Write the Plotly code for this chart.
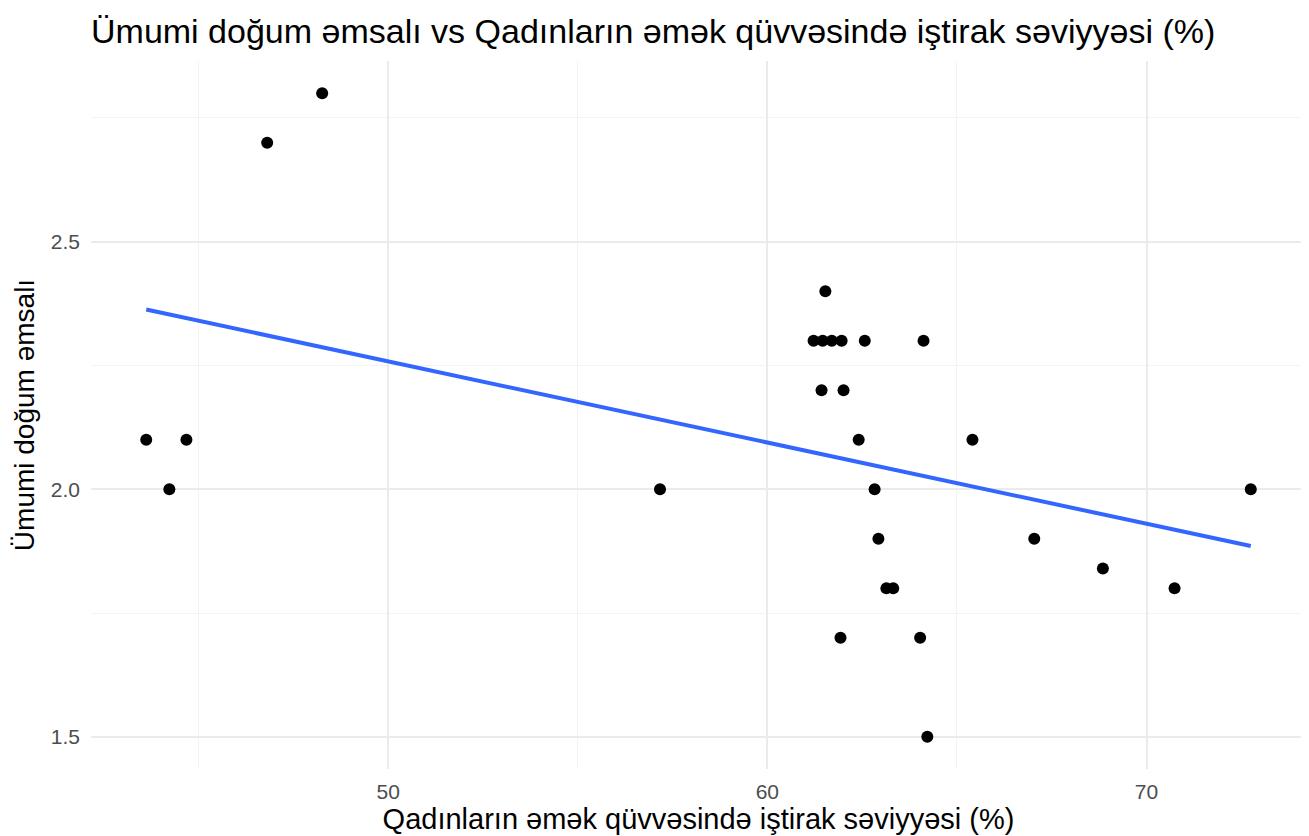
import numpy as np
import plotly.graph_objects as go

# Women's labour force participation (%) and total fertility rate
participation = [43.62, 44.23, 44.68, 46.81, 48.26, 57.17, 61.53,
                 61.22, 61.46, 61.70, 61.96, 62.57, 64.12,
                 61.43, 62.01, 62.41, 65.41, 62.83, 62.93,
                 63.14, 63.32, 61.93, 64.03, 64.22,
                 67.04, 68.85, 70.74, 72.75]
fertility = [2.1, 2.0, 2.1, 2.7, 2.8, 2.0, 2.4,
             2.3, 2.3, 2.3, 2.3, 2.3, 2.3,
             2.2, 2.2, 2.1, 2.1, 2.0, 1.9,
             1.8, 1.8, 1.7, 1.7, 1.5,
             1.9, 1.84, 1.8, 2.0]

x_ticks = [50, 60, 70]
y_ticks = [1.5, 2.0, 2.5]
y_tick_text = ["1.5", "2.0", "2.5"]

title = "Ümumi doğum əmsalı vs Qadınların əmək qüvvəsində iştirak səviyyəsi (%)"
x_title = "Qadınların əmək qüvvəsində iştirak səviyyəsi (%)"
y_title = "Ümumi doğum əmsalı"

xa = np.array(participation)
ya = np.array(fertility)
slope, intercept = np.polyfit(xa, ya, 1)
xl = np.array([xa.min(), xa.max()])
yl = slope * xl + intercept

fig = go.Figure()
fig.add_trace(go.Scatter(x=participation, y=fertility, mode="markers",
                         marker=dict(color="black", size=12), hoverinfo="x+y"))
fig.add_trace(go.Scatter(x=xl, y=yl, mode="lines",
                         line=dict(color="#3366FF", width=4), hoverinfo="skip"))

xr = xa.max() - xa.min()
yr = ya.max() - ya.min()
font = "Liberation Sans, Arial, sans-serif"
W, H = 1301, 828
fig.update_layout(
    width=W, height=H,
    paper_bgcolor="white", plot_bgcolor="white",
    showlegend=False,
    margin=dict(l=83, r=3, t=53, b=67, autoexpand=False),
    title=dict(text=title, x=0, xref="paper", xanchor="left",
               y=1 - 23 / H, yref="container", yanchor="middle",
               font=dict(family=font, size=34, color="black")),
    xaxis=dict(range=[xa.min() - 0.05 * xr, xa.max() + 0.05 * xr],
               tickvals=x_ticks, ticks="", showline=False, zeroline=False,
               automargin=False, ticklabelstandoff=8,
               gridcolor="#ebebeb", gridwidth=2,
               minor=dict(dtick=5, tick0=0, showgrid=True, gridcolor="#f3f3f3", gridwidth=1),
               tickfont=dict(family=font, size=21, color="#4d4d4d"),
               title=dict(text=x_title, standoff=4,
                          font=dict(family=font, size=29, color="black"))),
    yaxis=dict(range=[ya.min() - 0.05 * yr, ya.max() + 0.05 * yr],
               tickvals=y_ticks, ticktext=y_tick_text,
               ticks="", showline=False, zeroline=False,
               automargin=False, ticklabelstandoff=10,
               gridcolor="#ebebeb", gridwidth=2,
               minor=dict(dtick=0.25, tick0=0, showgrid=True, gridcolor="#f3f3f3", gridwidth=1),
               tickfont=dict(family=font, size=21, color="#4d4d4d"),
               title=dict(text=y_title, standoff=7,
                          font=dict(family=font, size=28, color="black"))),
)
fig.write_html("out.html")
